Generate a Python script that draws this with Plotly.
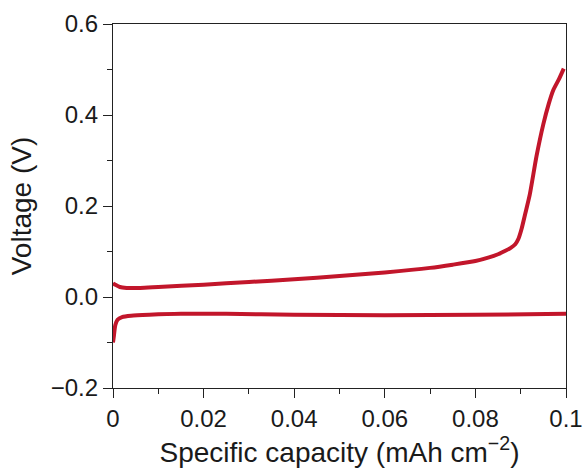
import plotly.graph_objects as go

# Charge curve (upper)
charge_cap = [0, 0.0005, 0.0015, 0.003, 0.006, 0.01, 0.02, 0.03, 0.04, 0.05, 0.06,
              0.07, 0.075, 0.08, 0.083, 0.085, 0.0865, 0.0878, 0.0888, 0.0895, 0.0902,
              0.091, 0.092, 0.0935, 0.095, 0.0962, 0.0972, 0.0985, 0.0995]
charge_v = [0.030, 0.027, 0.022, 0.020, 0.020, 0.022, 0.027, 0.033, 0.039, 0.046, 0.054,
            0.064, 0.071, 0.079, 0.087, 0.094, 0.101, 0.108, 0.116, 0.128, 0.150,
            0.183, 0.225, 0.310, 0.380, 0.425, 0.455, 0.480, 0.502]

# Discharge curve (lower)
dis_cap = [0, 0.0002, 0.0005, 0.001, 0.002, 0.004, 0.008, 0.015, 0.025, 0.04, 0.06, 0.08, 0.1]
dis_v = [-0.100, -0.085, -0.062, -0.050, -0.044, -0.041, -0.039, -0.037, -0.037,
         -0.039, -0.040, -0.039, -0.037]

x_tickvals = [0, 0.02, 0.04, 0.06, 0.08, 0.1]
x_ticktext = ["0", "0.02", "0.04", "0.06", "0.08", "0.1"]
x_minor = [0.01, 0.03, 0.05, 0.07, 0.09]
y_tickvals = [-0.2, 0.0, 0.2, 0.4, 0.6]
y_ticktext = ["\u22120.2", "0.0", "0.2", "0.4", "0.6"]
y_minor = [-0.1, 0.1, 0.3, 0.5]

color = "#C2162B"
fig = go.Figure()
for xs, ys in [(charge_cap, charge_v), (dis_cap, dis_v)]:
    fig.add_trace(go.Scatter(x=xs, y=ys, mode="lines",
                             line=dict(color=color, width=4, shape="spline", smoothing=0.6),
                             showlegend=False))

font = "Liberation Sans, Arial, sans-serif"
axis_common = dict(showline=True, linecolor="#222", linewidth=1.3, mirror=True,
                   ticks="outside", tickcolor="#222", tickwidth=1.3, ticklen=9,
                   showgrid=False, zeroline=False, automargin=False,
                   tickfont=dict(family=font, size=24, color="#1a1a1a"))

fig.update_xaxes(range=[0, 0.1], tickmode="array", tickvals=x_tickvals, ticktext=x_ticktext,
                 minor=dict(tickmode="array", tickvals=x_minor, ticks="outside", ticklen=5,
                            tickcolor="#222", tickwidth=1.3),
                 title=dict(text="Specific capacity (mAh cm<sup>\u22122</sup>)",
                            font=dict(family=font, size=28, color="#1a1a1a"), standoff=6),
                 **axis_common)
fig.update_yaxes(range=[-0.2, 0.6], tickmode="array", tickvals=y_tickvals, ticktext=y_ticktext,
                 minor=dict(tickmode="array", tickvals=y_minor, ticks="outside", ticklen=5,
                            tickcolor="#222", tickwidth=1.3),
                 title=dict(text="Voltage (V)",
                            font=dict(family=font, size=28, color="#1a1a1a"), standoff=10),
                 **axis_common)

fig.update_layout(width=585, height=470, margin=dict(l=113, r=19, t=24, b=82),
                  paper_bgcolor="white", plot_bgcolor="white")
fig.write_html("out.html")
